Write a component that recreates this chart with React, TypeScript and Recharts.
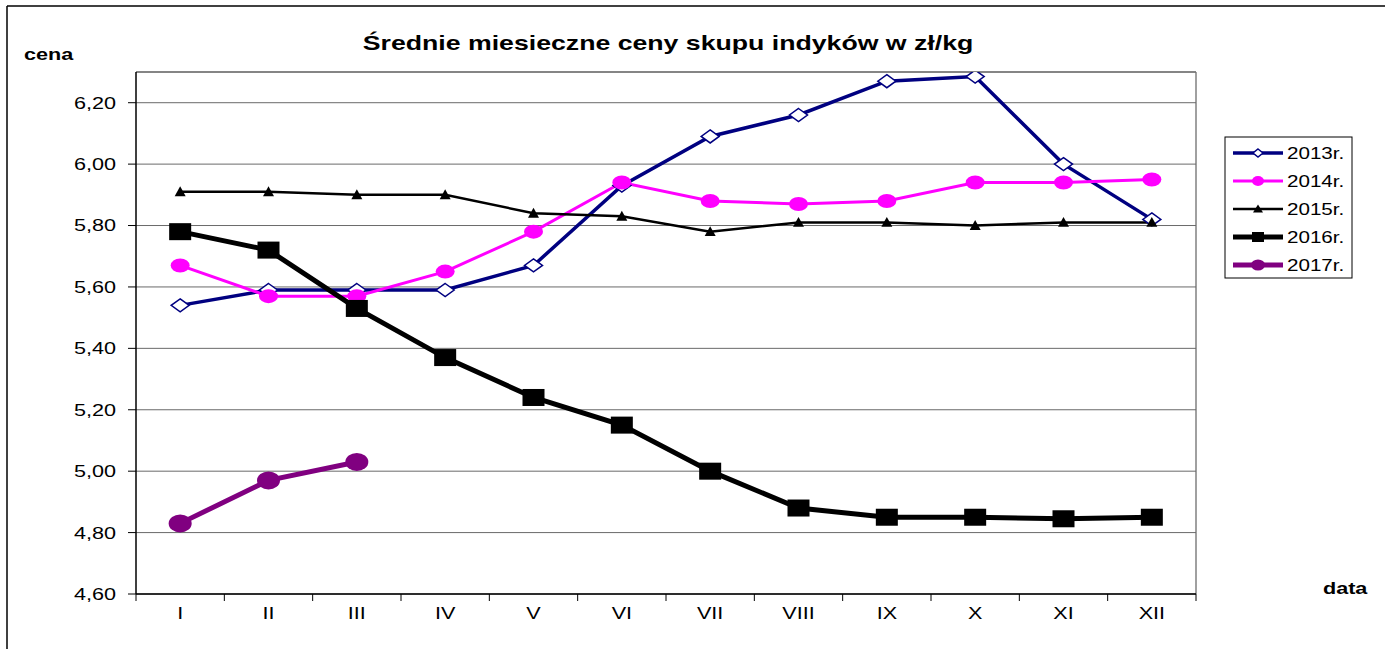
import {CartesianGrid, Line, LineChart, XAxis, YAxis} from "recharts";

const months = ["I", "II", "III", "IV", "V", "VI", "VII", "VIII", "IX", "X", "XI", "XII"];
const yTicks = [4.6, 4.8, 5.0, 5.2, 5.4, 5.6, 5.8, 6.0, 6.2];

const ceny2013 = [5.54, 5.59, 5.59, 5.59, 5.67, 5.93, 6.09, 6.16, 6.27, 6.285, 6.0, 5.82];
const ceny2014 = [5.67, 5.57, 5.57, 5.65, 5.78, 5.94, 5.88, 5.87, 5.88, 5.94, 5.94, 5.95];
const ceny2015 = [5.91, 5.91, 5.9, 5.9, 5.84, 5.83, 5.78, 5.81, 5.81, 5.8, 5.81, 5.81];
const ceny2016 = [5.78, 5.72, 5.53, 5.37, 5.24, 5.15, 5.0, 4.88, 4.85, 4.85, 4.845, 4.85];
const ceny2017 = [4.83, 4.97, 5.03];

const W = 1385;
const H = 649;
const PLOT = {left: 136, top: 72, right: 1196, bottom: 594};
const BAND = (PLOT.right - PLOT.left) / months.length;
const SX = 1.27; // reference text is stretched horizontally
const FONT = "'Liberation Sans', Arial, sans-serif";

const NAVY = "#000080";
const MAGENTA = "#ff00ff";
const PURPLE = "#800080";

type Shape = "diamond" | "circle" | "triangle" | "square";

const series: {key: string; name: string; color: string; width: number; shape: Shape; big: number[]; small: number[]}[] = [
    {key: "r2013", name: "2013r.", color: NAVY, width: 3.5, shape: "diamond", big: [9, 6.5], small: [5, 4]},
    {key: "r2014", name: "2014r.", color: MAGENTA, width: 3, shape: "circle", big: [9.5, 7], small: [6, 5]},
    {key: "r2015", name: "2015r.", color: "#000", width: 2.5, shape: "triangle", big: [5.5, 5.5], small: [5, 4.5]},
    {key: "r2016", name: "2016r.", color: "#000", width: 5, shape: "square", big: [11, 8.5], small: [6, 5]},
    {key: "r2017", name: "2017r.", color: PURPLE, width: 5, shape: "circle", big: [11.5, 9], small: [7, 5.5]},
];

const data = months.map((m, i) => ({
    m,
    r2013: ceny2013[i],
    r2014: ceny2014[i],
    r2015: ceny2015[i],
    r2016: ceny2016[i],
    r2017: ceny2017[i],
}));

function Marker({cx, cy, shape, color, size}: {cx: number; cy: number; shape: Shape; color: string; size: number[]}) {
    const [w, h] = size;
    if (shape === "diamond") {
        return <polygon points={`${cx},${cy - h} ${cx + w},${cy} ${cx},${cy + h} ${cx - w},${cy}`} fill="#fff" stroke={color} strokeWidth={1.5}/>;
    }
    if (shape === "circle") {
        return <ellipse cx={cx} cy={cy} rx={w} ry={h} fill={color}/>;
    }
    if (shape === "triangle") {
        return <polygon points={`${cx},${cy - h} ${cx + w},${cy + h * 0.8} ${cx - w},${cy + h * 0.8}`} fill={color}/>;
    }
    return <rect x={cx - w} y={cy - h} width={w * 2} height={h * 2} fill={color}/>;
}

function YTick(props: any) {
    const {x, y, payload} = props;
    return (
        <text transform={`translate(${x},${y}) scale(${SX},1)`} textAnchor="end" dy="0.35em"
              fontFamily={FONT} fontSize={17} fill="#000">
            {Number(payload.value).toFixed(2).replace(".", ",")}
        </text>
    );
}

function XTick(props: any) {
    const {x, payload, index} = props;
    const y = PLOT.bottom;
    return (
        <g>
            <line x1={x - BAND / 2} x2={x - BAND / 2} y1={y} y2={y + 7} stroke="#000"/>
            {index === months.length - 1 && <line x1={x + BAND / 2} x2={x + BAND / 2} y1={y} y2={y + 7} stroke="#000"/>}
            <text transform={`translate(${x},${y + 25}) scale(${SX},1)`} textAnchor="middle"
                  fontFamily={FONT} fontSize={17} fill="#000">
                {payload.value}
            </text>
        </g>
    );
}

export default function App() {
    return (
        <div style={{position: "absolute", left: 0, top: 0, width: W, height: H, background: "#fff", fontFamily: FONT}}>
            <svg width={W} height={H} style={{position: "absolute", left: 0, top: 0}}>
                <line x1={7} y1={6} x2={W} y2={6} stroke="#000" strokeWidth={1.5}/>
                <line x1={7} y1={6} x2={7} y2={H} stroke="#000" strokeWidth={1.5}/>
                <line x1={PLOT.left} y1={PLOT.top} x2={PLOT.right} y2={PLOT.top} stroke="#808080" strokeWidth={1.5}/>
                <line x1={PLOT.right} y1={PLOT.top} x2={PLOT.right} y2={PLOT.bottom} stroke="#808080" strokeWidth={1.5}/>
                <text transform={`translate(668,50) scale(${SX},1)`} textAnchor="middle" fontSize={21} fontWeight="bold">
                    Średnie miesieczne ceny skupu indyków w zł/kg
                </text>
                <text transform={`translate(24,60) scale(${SX},1)`} fontSize={17} fontWeight="bold">cena</text>
                <text transform={`translate(1323,594) scale(${SX},1)`} fontSize={17} fontWeight="bold">data</text>
                <rect x={1225} y={137} width={127} height={141} fill="#fff" stroke="#000" strokeWidth={1}/>
                {series.map((s, i) => {
                    const cy = 153 + i * 28;
                    return (
                        <g key={s.key}>
                            <line x1={1233} x2={1283} y1={cy} y2={cy} stroke={s.color} strokeWidth={s.width}/>
                            <Marker cx={1258} cy={cy} shape={s.shape} color={s.color} size={s.small}/>
                            <text transform={`translate(1287,${cy + 6}) scale(1.25,1)`} fontSize={16.5}>{s.name}</text>
                        </g>
                    );
                })}
            </svg>
            <div style={{position: "absolute", left: 0, top: 0}}>
                <LineChart width={W} height={H} data={data}
                           margin={{top: PLOT.top, right: W - PLOT.right, left: PLOT.left - 60, bottom: H - PLOT.bottom - 30}}>
                    <CartesianGrid vertical={false} stroke="#6a6a6a" strokeWidth={1}/>
                    <XAxis dataKey="m" height={30} interval={0} tickLine={false} tickSize={0} tickMargin={0}
                           padding={{left: BAND / 2, right: BAND / 2}}
                           axisLine={{stroke: "#000", strokeWidth: 1.5}} tick={<XTick/>}/>
                    <YAxis width={60} domain={[4.6, 6.3]} ticks={yTicks} interval={0} allowDataOverflow
                           tickSize={8} tickMargin={12} tickLine={{stroke: "#000"}}
                           axisLine={{stroke: "#000", strokeWidth: 1.5}} tick={<YTick/>}/>
                    {series.map((s) => (
                        <Line key={s.key} dataKey={s.key} name={s.name} type="linear" stroke={s.color}
                              strokeWidth={s.width} isAnimationActive={false} connectNulls={false}
                              dot={(p: any) => (p.cx == null || p.cy == null || p.value == null)
                                  ? <g key={`${s.key}-${p.index}`}/>
                                  : <Marker key={`${s.key}-${p.index}`} cx={p.cx} cy={p.cy} shape={s.shape} color={s.color} size={s.big}/>}
                              activeDot={false}/>
                    ))}
                </LineChart>
            </div>
        </div>
    );
}
